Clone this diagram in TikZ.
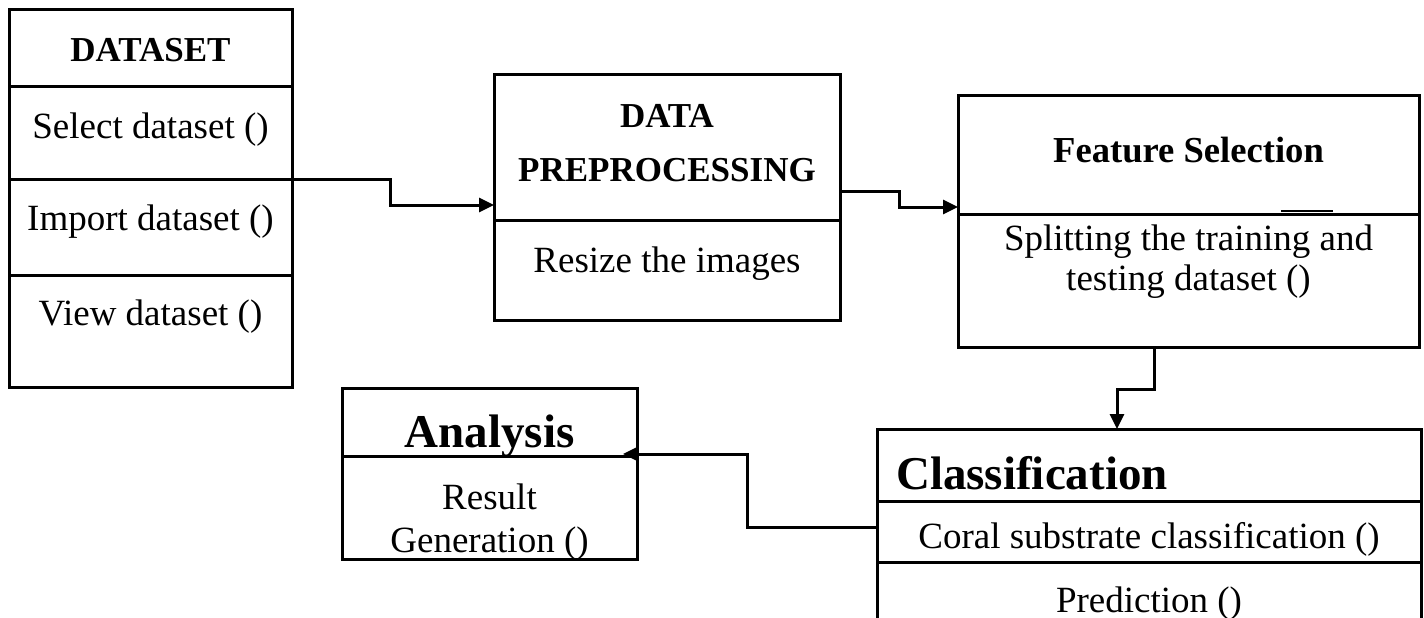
\documentclass[tikz,border=0pt]{standalone}
\usepackage{fontspec}
\setmainfont{Liberation Serif}
\usetikzlibrary{arrows.meta}
\tikzset{
  box/.style={draw, line width=3pt, inner sep=0pt, outer sep=0pt, anchor=north west},
  rule/.style={line width=3pt},
  txt/.style={inner sep=0pt, anchor=base, font=\fontsize{37}{44}\selectfont},
  head/.style={inner sep=0pt, anchor=base, font=\bfseries\fontsize{35}{42}\selectfont},
  bighead/.style={inner sep=0pt, anchor=base, font=\bfseries\fontsize{47}{56}\selectfont},
  flow/.style={line width=3pt, -{Triangle[length=15pt,width=14pt]}},
}
\begin{document}
\begin{tikzpicture}[x=1pt,y=-1pt]
  \useasboundingbox (0,0) rectangle (1424,618);
  \clip (0,0) rectangle (1424,618);

  % class boxes
  \node[box, minimum width=283pt, minimum height=377pt] (ds) at (9,10) {};
  \node[box, minimum width=346pt, minimum height=245pt] (dp) at (494,75) {};
  \node[box, minimum width=461pt, minimum height=252pt] (fs) at (958,95) {};
  \node[box, minimum width=544pt, minimum height=200pt] (cl) at (877,429) {};
  \node[box, minimum width=295pt, minimum height=171pt] (an) at (342,388) {};

  % compartment rules
  \draw[rule] (ds.west |- 0,86)  -- (ds.east |- 0,86);
  \draw[rule] (ds.west |- 0,179) -- (ds.east |- 0,179);
  \draw[rule] (ds.west |- 0,275) -- (ds.east |- 0,275);
  \draw[rule] (dp.west |- 0,220) -- (dp.east |- 0,220);
  \draw[rule] (fs.west |- 0,214) -- (fs.east |- 0,214);
  \draw[line width=2.5pt] (1281,211) -- (1333,211);
  \draw[rule] (cl.west |- 0,501) -- (cl.east |- 0,501);
  \draw[rule] (cl.west |- 0,562) -- (cl.east |- 0,562);
  \draw[rule] (an.west |- 0,456) -- (an.east |- 0,456);

  % DATASET
  \node[head] (dsh) at (150.5,62) {DATASET};
  \node[txt] (ds1) at (150.5,138) {Select dataset ()};
  \node[txt] (ds2) at (150.5,230) {Import dataset ()};
  \node[txt] (ds3) at (150.5,325) {View dataset ()};

  % DATA PREPROCESSING
  \node[head] (dph1) at (667,127) {DATA};
  \node[head] (dph2) at (667,181) {PREPROCESSING};
  \node[txt] (dp1) at (667,272) {Resize the images};

  % Feature Selection
  \node[head, font=\bfseries\fontsize{36.6}{44}\selectfont] (fsh) at (1188.5,162) {Feature Selection};
  \node[txt] (fs1) at (1188.5,250) {Splitting the training and};
  \node[txt] (fs2) at (1188.5,290) {testing dataset ()};

  % Classification
  \node[bighead, anchor=base west] (clh) at (896,489) {Classification};
  \node[txt] (cl1) at (1149,548) {Coral substrate classification ()};
  \node[txt] (cl2) at (1149,612) {Prediction ()};

  % Analysis
  \node[bighead] (anh) at (489.5,447) {Analysis};
  \node[txt] (an1) at (489.5,509) {Result};
  \node[txt] (an2) at (489.5,552) {Generation ()};

  % flow connectors
  \coordinate (antip) at (623,454);
  \draw[flow] (ds.east |- 0,179) -- (390,179) -- (390,205) -- (dp.west |- 0,205);
  \draw[flow] (dp.east |- 0,191) -- (899,191) -- (899,207) -- (fs.west |- 0,207);
  \draw[flow] (fs.south -| 1154,0) -- (1154,389) -- (1117,389) -- (cl.north -| 1117,0);
  \draw[flow] (cl.west |- 0,527) -- (747,527) -- (747,454) -- (antip);
\end{tikzpicture}
\end{document}
